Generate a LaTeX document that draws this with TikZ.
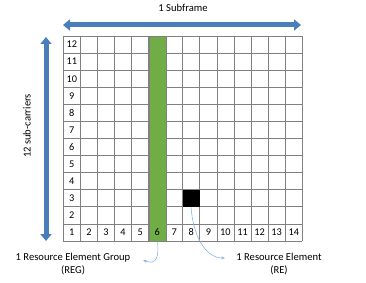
\documentclass[tikz,border=0pt]{standalone}
\usepackage{fontspec}
\setmainfont{Carlito}
\usetikzlibrary{arrows.meta}
\definecolor{arrowblue}{HTML}{4A7EBB}
\definecolor{gridgray}{HTML}{808080}
\definecolor{reggreen}{HTML}{70AD47}
\definecolor{curveblue}{HTML}{8DB4E2}
\tikzset{
  gridline/.style={draw=gridgray, line width=0.75pt},
  bigarrow/.style={draw=arrowblue, line width=5pt, {Triangle[width=11pt,length=7pt]}-{Triangle[width=11pt,length=7pt]}},
  thincurve/.style={draw=curveblue, line width=0.6pt, -{Stealth[length=4pt,width=3pt]}},
  numlabel/.style={font=\fontsize{10.3}{12}\selectfont, inner sep=0pt},
  txtlabel/.style={font=\fontsize{10.6}{13}\selectfont, align=center, inner sep=1pt},
}
\begin{document}
\begin{tikzpicture}[x=1pt,y=-1pt]
\useasboundingbox (0,0) rectangle (366,283);
\pgfmathsetmacro{\gx}{63.3}
\pgfmathsetmacro{\gy}{36}
\pgfmathsetmacro{\cw}{17.07}
\pgfmathsetmacro{\ch}{17.08}
% grid lines
\foreach \i in {0,...,14} {
  \draw[gridline] (\gx+\i*\cw,\gy) -- (\gx+\i*\cw,\gy+12*\ch);
}
\foreach \j in {0,...,12} {
  \draw[gridline] (\gx,\gy+\j*\ch) -- (\gx+14*\cw,\gy+\j*\ch);
}
% green REG column
\node[fill=reggreen, draw=gridgray, line width=0.75pt, minimum width=\cw pt, minimum height=12*\ch pt, inner sep=0pt, anchor=north west] (reg) at (\gx+5*\cw,\gy) {};
% black RE square
\node[fill=black, minimum width=\cw pt, minimum height=\ch pt, inner sep=0pt, anchor=north west] (re) at (\gx+7*\cw,\gy+9*\ch) {};
% row numbers
\foreach \r in {2,...,12} {
  \node[numlabel] (row\r) at (\gx+0.5*\cw,\gy+12*\ch-\r*\ch+0.5*\ch) {\r};
}
% column numbers
\foreach \c in {1,...,14} {
  \node[numlabel] (col\c) at (\gx+\c*\cw-0.5*\cw,\gy+11.5*\ch) {\c};
}
% big arrows
\coordinate (hl) at (63,25);
\coordinate (hr) at (301,25);
\draw[bigarrow] (hl) -- (hr);
\node[txtlabel] (sub) at (183,8) {1 Subframe};
\coordinate (vt) at (46,37);
\coordinate (vb) at (46,241);
\draw[bigarrow] (vt) -- (vb);
\node[txtlabel, rotate=90] (sc) at (27,126) {12 sub-carriers};
% bottom labels
\node[txtlabel] (reglab) at (73,264) {1 Resource Element Group\\(REG)};
\node[txtlabel] (relab) at (279,264) {1 Resource Element\\(RE)};
% curves
\coordinate (regtip) at (143,260);
\coordinate (retip) at (225,258);
\draw[thincurve] (reg.south) .. controls (159,255) and (157,266) .. (regtip);
\draw[thincurve] ([xshift=-0.5pt]re.south) .. controls (193,235) and (205,258) .. (retip);
\end{tikzpicture}
\end{document}
